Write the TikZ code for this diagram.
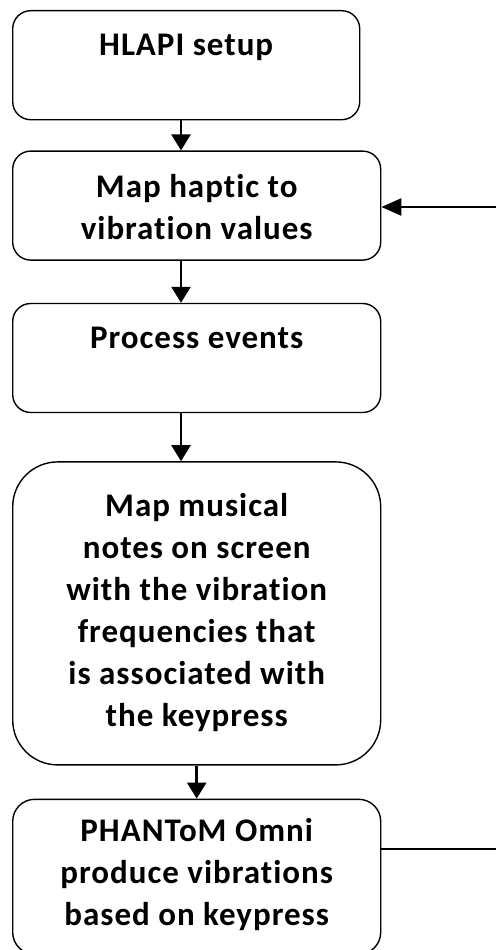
\documentclass[tikz,border=0pt]{standalone}
\usepackage{fontspec}
\setmainfont{Carlito}[Ligatures=NoCommon]
\usetikzlibrary{positioning,arrows.meta}

% box text: width, height, first baseline, lines
\newcommand{\flowtext}[4]{\parbox[c][#2][t]{#1}{\centering\fontsize{33}{42}\selectfont\bfseries\addfontfeatures{LetterSpace=3}\rule{0pt}{#3}#4}}

\tikzset{
  flowbox/.style={draw, line width=1.4pt, inner sep=0pt, rounded corners=18pt},
  flowarrow/.style={line width=2.5pt, -{Triangle[width=19pt,length=16pt]}},
}

\begin{document}
\begin{tikzpicture}[x=1pt,y=1pt]
  \useasboundingbox (0,0) rectangle (496,-950);

  \node[flowbox, anchor=north west] (setup) at (12,-10)
    {\flowtext{347pt}{109pt}{45pt}{HLAPI setup}};
  \node[flowbox, below=30pt of setup.south west, anchor=north west] (maphaptic)
    {\flowtext{368pt}{109pt}{46pt}{Map haptic to\\vibration values}};
  \node[flowbox, below=42pt of maphaptic.south west, anchor=north west] (events)
    {\flowtext{368pt}{109pt}{45pt}{Process events}};
  \node[flowbox, rounded corners=45pt, below=48pt of events.south west, anchor=north west] (mapnotes)
    {\flowtext{368pt}{303pt}{55pt}{Map musical\\notes on screen\\with the vibration\\frequencies that\\is associated with\\the keypress}};
  \node[flowbox, rounded corners=22pt, below=33pt of mapnotes.south west, anchor=north west] (phantom)
    {\flowtext{368pt}{155pt}{42pt}{PHANToM Omni\\produce vibrations\\based on keypress}};

  %% the down arrows sit a bit left of the box centres
  \coordinate (ax) at (181,0);
  \draw[flowarrow] (setup.south -| ax) -- (maphaptic.north -| ax);
  \draw[flowarrow] (maphaptic.south -| ax) -- (events.north -| ax);
  \draw[flowarrow] (events.south -| ax) -- (mapnotes.north -| ax);
  \draw[flowarrow] (mapnotes.south) -- (phantom.north);

  %% loop back, leaving the picture on the right
  \coordinate (loopout) at (496,-849);
  \coordinate (loopin) at (496,-207);
  \draw[line width=1.4pt] (phantom.east |- loopout) -- (loopout);
  \draw[flowarrow, -{Triangle[width=17pt,length=20pt]}] (loopin) -- (maphaptic.east |- loopin);
\end{tikzpicture}
\end{document}
